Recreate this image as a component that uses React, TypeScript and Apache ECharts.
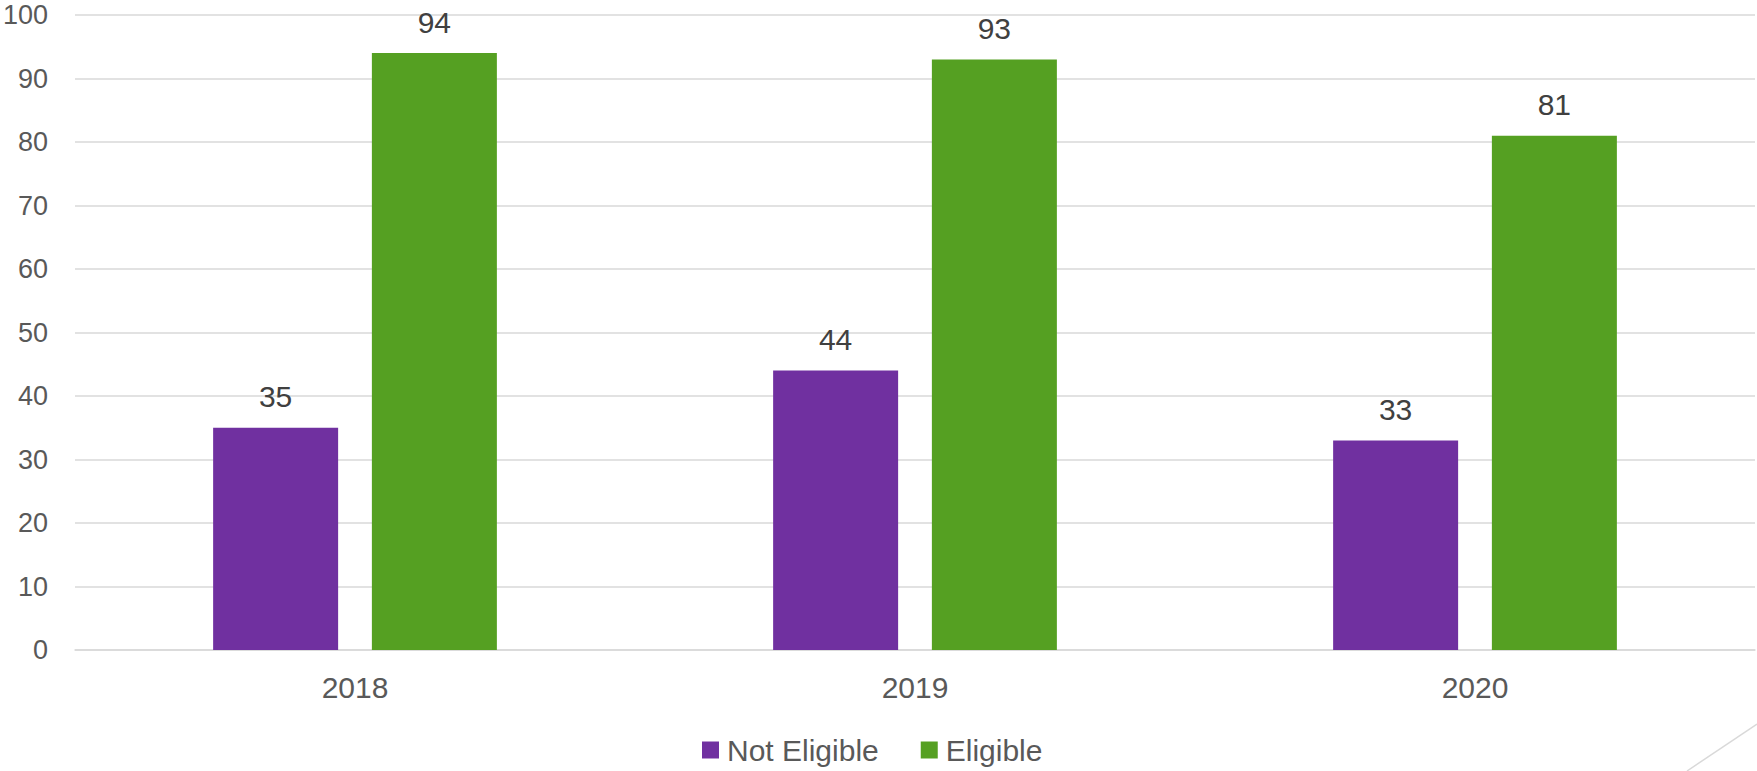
import React, { useEffect, useRef } from "react";
import * as echarts from "echarts";

const categories = ["2018", "2019", "2020"];
const notEligible = [35, 44, 33];
const eligible = [94, 93, 81];
const seriesNames = ["Not Eligible", "Eligible"];

const FONT = "'Liberation Sans', Arial, sans-serif";

export default function App() {
  const ref = useRef<HTMLDivElement>(null);
  useEffect(() => {
    if (!ref.current) return;
    const chart = echarts.init(ref.current, null, { renderer: "svg" });
    const labelStyle = {
      show: true,
      position: "top" as const,
      distance: 16,
      color: "#404040",
      fontSize: 30,
      fontFamily: FONT,
    };
    chart.setOption({
      animation: false,
      backgroundColor: "#ffffff",
      textStyle: { fontFamily: FONT },
      grid: {
        left: 75,
        right: 2,
        top: 15,
        bottom: 121,
        containLabel: false,
        outerBoundsMode: "none",
      },
      legend: {
        data: seriesNames,
        left: 702,
        top: 735,
        padding: 0,
        icon: "rect",
        itemWidth: 17,
        itemHeight: 17,
        itemGap: 42,
        textStyle: { fontSize: 30, color: "#595959", fontFamily: FONT, padding: [0, 0, 0, 3] },
      },
      xAxis: {
        type: "category",
        data: categories,
        axisLine: { show: true, lineStyle: { color: "#D9D9D9", width: 1.5 } },
        axisTick: { show: false },
        axisLabel: { fontSize: 30, color: "#595959", fontFamily: FONT, margin: 22 },
      },
      yAxis: {
        type: "value",
        min: 0,
        max: 100,
        interval: 10,
        axisLine: { show: false },
        axisTick: { show: false },
        axisLabel: {
          fontSize: 27,
          lineHeight: 27,
          color: "#595959",
          fontFamily: FONT,
          margin: 27,
        },
        splitLine: { lineStyle: { color: "#D9D9D9", width: 1.5 } },
      },
      series: [
        {
          name: seriesNames[0],
          type: "bar",
          data: notEligible,
          barWidth: 125,
          barGap: "27%",
          itemStyle: { color: "#7030A0" },
          label: labelStyle,
        },
        {
          name: seriesNames[1],
          type: "bar",
          data: eligible,
          barWidth: 125,
          barGap: "27%",
          itemStyle: { color: "#55A022" },
          label: labelStyle,
        },
      ],
      graphic: [
        {
          type: "line",
          shape: { x1: 1687, y1: 771, x2: 1757, y2: 724 },
          style: { stroke: "#D9D9D9", lineWidth: 1.5 },
          silent: true,
        },
      ],
    });
    return () => chart.dispose();
  }, []);
  return (
    <div
      ref={ref}
      style={{ position: "fixed", left: 0, top: 0, width: 1757, height: 771 }}
    />
  );
}
